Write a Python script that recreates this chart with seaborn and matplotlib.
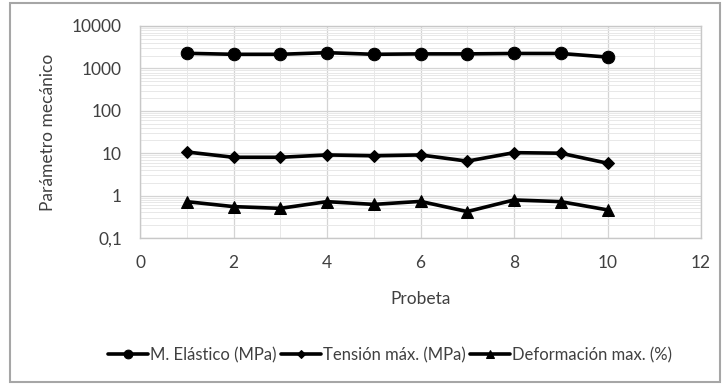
import matplotlib
matplotlib.use("Agg")
import matplotlib.pyplot as plt
from matplotlib.ticker import LogLocator, MultipleLocator, FuncFormatter, NullFormatter
from matplotlib.patches import Rectangle
import seaborn as sns
import pandas as pd

# Ensayos de tracción: 10 probetas
probetas = [1, 2, 3, 4, 5, 6, 7, 8, 9, 10]
modulo_elastico = [2270, 2150, 2150, 2350, 2150, 2200, 2200, 2250, 2250, 1850]
tension_max = [10.7, 8.0, 8.0, 9.1, 8.7, 9.1, 6.5, 10.3, 10.0, 5.8]
deformacion_max = [0.72, 0.55, 0.50, 0.72, 0.62, 0.73, 0.42, 0.79, 0.72, 0.46]

series = ["M. Elástico (MPa)", "Tensión máx. (MPa)", "Deformación max. (%)"]
marcadores = {series[0]: "o", series[1]: "D", series[2]: "^"}
tamanos = {series[0]: 9, series[1]: 6.5, series[2]: 8.5}

df = pd.concat([
    pd.DataFrame({"Probeta": probetas, "Valor": vals, "Serie": nombre})
    for nombre, vals in zip(series, [modulo_elastico, tension_max, deformacion_max])
], ignore_index=True)

sns.set_theme(style="white")
plt.rcParams["font.family"] = ["Lato", "DejaVu Sans"]
GRIS_TEXTO = "#404040"
TAM = 12.5

fig = plt.figure(figsize=(7.22, 3.85), dpi=100)
ax = fig.add_axes([140 / 722, 1 - 238 / 385, (701 - 140) / 722, (238 - 26) / 385])

for nombre in series:
    sub = df[df["Serie"] == nombre]
    sns.lineplot(data=sub, x="Probeta", y="Valor", ax=ax, color="black",
                 linewidth=2.6, marker=marcadores[nombre],
                 markersize=tamanos[nombre], markeredgecolor="black",
                 label=nombre, legend=False)

ax.set_yscale("log")
ax.set_ylim(0.1, 10000)
ax.set_xlim(0, 12)

ax.xaxis.set_major_locator(MultipleLocator(2))
ax.xaxis.set_minor_locator(MultipleLocator(1))
ax.yaxis.set_major_locator(LogLocator(base=10, numticks=10))
ax.yaxis.set_minor_locator(LogLocator(base=10, subs=range(2, 10), numticks=10))
ax.yaxis.set_minor_formatter(NullFormatter())


def fmt_y(v, _pos):
    if v < 1:
        return f"{v:.1f}".replace(".", ",")
    return f"{int(round(v))}"


ax.yaxis.set_major_formatter(FuncFormatter(fmt_y))

ax.grid(which="major", axis="both", color="#d4d4d4", linewidth=0.9)
ax.grid(which="minor", axis="both", color="#e8e8e8", linewidth=0.7)
ax.set_axisbelow(True)

for sp in ax.spines.values():
    sp.set_color("#c8c8c8")
    sp.set_linewidth(1.0)

ax.tick_params(axis="both", which="major", labelsize=TAM, colors=GRIS_TEXTO, length=0)
ax.tick_params(axis="y", which="minor", length=3, color="#d0d0d0", direction="in")
ax.tick_params(axis="y", which="major", pad=13)
ax.tick_params(axis="x", which="major", pad=12)

ax.set_xlabel("Probeta", fontsize=TAM, color=GRIS_TEXTO)
ax.set_ylabel("Parámetro mecánico", fontsize=TAM, color=GRIS_TEXTO)
ax.xaxis.set_label_coords(0.5, -0.25)
ax.yaxis.set_label_coords(-0.15, 0.5)

handles, labels = ax.get_legend_handles_labels()
leg = fig.legend(handles, labels, loc="center", bbox_to_anchor=(390 / 722, 1 - 355 / 385),
                 ncol=3, frameon=False, fontsize=12, handlelength=2.4,
                 handletextpad=0.1, columnspacing=0.3, labelcolor=GRIS_TEXTO,
                 markerscale=0.7)

# Marco exterior del gráfico
fig.patches.append(Rectangle((10 / 722, 3 / 385), (720 - 10) / 722, (382 - 3) / 385,
                             transform=fig.transFigure, fill=False,
                             edgecolor="#a6a6a6", linewidth=1.5))

fig.savefig("out.png", dpi=100, facecolor="white")
